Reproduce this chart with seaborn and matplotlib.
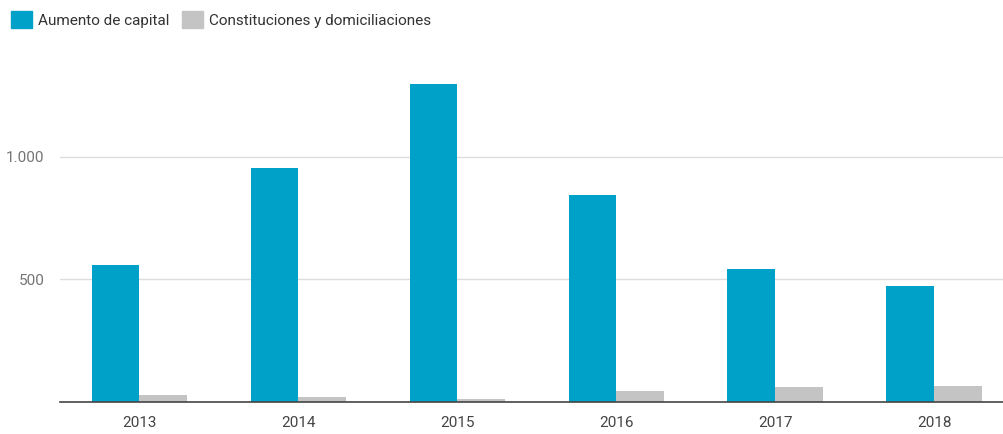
import numpy as np
import pandas as pd
import seaborn as sns
import matplotlib.pyplot as plt
from matplotlib.ticker import FuncFormatter

# datos
years = ["2013", "2014", "2015", "2016", "2017", "2018"]
aumento = [560, 955, 1295, 842, 543, 473]
constituciones = [27, 20, 13, 44, 61, 67]
series = ["Aumento de capital", "Constituciones y domiciliaciones"]
colores = ["#00a1c9", "#c4c4c4"]

df = pd.DataFrame({
    "year": years * 2,
    "valor": aumento + constituciones,
    "serie": [series[0]] * len(years) + [series[1]] * len(years),
})

sns.set_style("white")
plt.rcParams["font.family"] = ["Roboto", "DejaVu Sans"]

fig = plt.figure(figsize=(10.04, 4.34), dpi=100)
ax = fig.add_axes([60 / 1004, 32 / 434, 944 / 1004, 368 / 434])

sns.barplot(data=df, x="year", y="valor", hue="serie", palette=colores,
            width=0.6, saturation=1, linewidth=0, ax=ax, legend=False)

ax.set_xlim(-0.5, 5.44)
ax.set_ylim(0, 1500)
ax.set_yticks([500, 1000])
ax.yaxis.set_major_formatter(FuncFormatter(lambda v, p: f"{int(v):,}".replace(",", ".")))
ax.yaxis.grid(True, color="#dddddd", linewidth=1)
ax.set_axisbelow(True)
ax.set_xlabel("")
ax.set_ylabel("")
for s in ["top", "right", "left"]:
    ax.spines[s].set_visible(False)
ax.spines["bottom"].set_color("#444444")
ax.spines["bottom"].set_linewidth(1.2)
ax.tick_params(axis="y", length=0, pad=11, labelsize=11, labelcolor="#757575")
ax.tick_params(axis="x", length=0, pad=10, labelsize=11, labelcolor="#444444")

handles = [plt.Rectangle((0, 0), 1, 1, color=c) for c in colores]
fig.legend(handles, series, loc="upper left", bbox_to_anchor=(0.0, 1.0), ncol=2,
           frameon=False, fontsize=11, handlelength=1.4, handleheight=1.4,
           handletextpad=0.4, columnspacing=0.8, labelcolor="#333333",
           borderaxespad=0.3)

fig.savefig("out.png", dpi=100)
